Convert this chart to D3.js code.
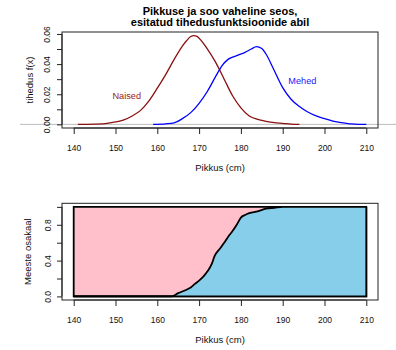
<!DOCTYPE html>
<html>
<head>
<meta charset="utf-8">
<script src="https://cdn.jsdelivr.net/npm/d3@7"></script>
<style>
  html, body { margin: 0; padding: 0; background: #fff; }
  svg { display: block; font-family: "Liberation Sans", Arial, sans-serif; }
</style>
</head>
<body>
<div id="chart"></div>
<script>
// Height (cm) grid and density estimate for women
const naisedX = [141, 145, 148, 150, 152, 154, 156, 158, 160, 162, 164, 166, 167, 168, 168.7, 169.5, 170, 172, 174, 176, 178, 180, 182, 184, 186, 188, 190, 192, 194];
const naisedY = [0, 0.0002, 0.0007, 0.0016, 0.003, 0.0056, 0.0093, 0.0156, 0.024, 0.033, 0.043, 0.052, 0.0555, 0.0583, 0.0589, 0.0584, 0.0572, 0.050, 0.041, 0.030, 0.019, 0.011, 0.0056, 0.0033, 0.002, 0.0011, 0.0007, 0.0002, 0];

// Height (cm) grid and density estimate for men
const mehedX = [159, 162, 164, 166, 168, 170, 172, 174, 175.5, 177, 179, 181, 182.5, 183.7, 185, 186, 188, 190, 192, 194, 196, 198, 200, 202, 204, 206, 208, 210];
const mehedY = [0, 0.0004, 0.001, 0.0038, 0.0078, 0.014, 0.022, 0.032, 0.039, 0.0433, 0.0456, 0.0478, 0.050, 0.0516, 0.0504, 0.0467, 0.0356, 0.0244, 0.0167, 0.0118, 0.0082, 0.0056, 0.0038, 0.0022, 0.0011, 0.0004, 0, 0];

// Share of men by height
const osakaalX = [140, 150, 160, 163.5, 165, 167, 168, 169, 170, 171, 172, 173, 173.7, 175, 176, 177, 178, 179, 180, 181, 182, 184, 186, 188, 190, 200, 210];
const osakaalY = [0, 0, 0, 0, 0.037, 0.075, 0.10, 0.14, 0.176, 0.22, 0.28, 0.36, 0.45, 0.535, 0.60, 0.67, 0.73, 0.80, 0.88, 0.91, 0.93, 0.95, 0.98, 0.99, 1, 1, 1];

const xTicks = [140, 150, 160, 170, 180, 190, 200, 210];
const densTicks = [0, 0.01, 0.02, 0.03, 0.04, 0.05, 0.06];
const densTickLabels = ["0.00", "", "0.02", "", "0.04", "", "0.06"];
const shareTicks = [0, 0.2, 0.4, 0.6, 0.8, 1.0];
const shareTickLabels = ["0.0", "", "0.4", "", "0.8", ""];

const titleLines = ["Pikkuse ja soo vaheline seos,", "esitatud tihedusfunktsioonide abil"];

const W = 396, H = 350;
const svg = d3.select("#chart").append("svg").attr("width", W).attr("height", H);

const axisColor = "#222";
const tickFont = 8.5;
const labFont = 9.5;

function drawPanel(cfg) {
  const g = svg.append("g");
  const x = d3.scaleLinear().domain([137.2, 212.8]).range([cfg.left, cfg.right]);
  const y = d3.scaleLinear().domain(cfg.yDomain).range([cfg.bottom, cfg.top]);

  cfg.draw(g, x, y);

  // box
  g.append("rect")
    .attr("x", cfg.left).attr("y", cfg.top)
    .attr("width", cfg.right - cfg.left).attr("height", cfg.bottom - cfg.top)
    .attr("fill", "none").attr("stroke", axisColor).attr("stroke-width", 1);

  // x axis
  const xa = g.append("g").attr("transform", `translate(0,${cfg.bottom})`)
    .call(d3.axisBottom(x).tickValues(xTicks).tickSize(6).tickPadding(0).tickFormat(d3.format("d")));
  xa.select(".domain").attr("d", `M${x(xTicks[0])},0H${x(xTicks[xTicks.length - 1])}`).attr("stroke", axisColor);
  xa.selectAll(".tick line").attr("stroke", axisColor);
  xa.selectAll(".tick text").attr("dy", null).attr("y", cfg.xTickBase - cfg.bottom)
    .attr("font-size", tickFont).attr("font-family", "Liberation Sans, Arial, sans-serif").attr("fill", "#111");

  // y axis
  const ya = g.append("g").attr("transform", `translate(${cfg.left},0)`)
    .call(d3.axisLeft(y).tickValues(cfg.yTicks).tickSize(5).tickFormat((d, i) => cfg.yLabels[i]));
  ya.select(".domain").attr("d", `M0,${y(cfg.yTicks[0])}V${y(cfg.yTicks[cfg.yTicks.length - 1])}`).attr("stroke", axisColor);
  ya.selectAll(".tick line").attr("stroke", axisColor);
  ya.selectAll(".tick text")
    .attr("x", null).attr("dy", null).attr("y", null)
    .attr("text-anchor", "middle")
    .attr("transform", `translate(${cfg.yTickX - cfg.left},0) rotate(-90)`)
    .attr("font-size", tickFont).attr("font-family", "Liberation Sans, Arial, sans-serif").attr("fill", "#111");

  // axis titles
  g.append("text").attr("x", (cfg.left + cfg.right) / 2).attr("y", cfg.xLabBase)
    .attr("text-anchor", "middle").attr("font-size", labFont).attr("fill", "#111").text("Pikkus (cm)");
  g.append("text")
    .attr("transform", `translate(${cfg.yLabX},${(cfg.top + cfg.bottom) / 2}) rotate(-90)`)
    .attr("text-anchor", "middle").attr("font-size", labFont).attr("fill", "#111").text(cfg.yLab);
}

const smooth = d3.curveMonotoneX;

// Top panel: densities
drawPanel({
  left: 62, right: 378, top: 32, bottom: 128,
  yDomain: [-0.0024, 0.0613],
  yTicks: densTicks, yLabels: densTickLabels,
  xTickBase: 151, xLabBase: 171, yTickX: 50, yLabX: 33,
  yLab: "tihedus f(x)",
  draw(g, x, y) {
    g.append("line").attr("x1", 20).attr("x2", W).attr("y1", y(0)).attr("y2", y(0))
      .attr("stroke", "#bdbdbd").attr("stroke-width", 1);
    const line = d3.line().x(d => x(d[0])).y(d => y(d[1])).curve(smooth);
    g.append("path").datum(d3.zip(naisedX, naisedY)).attr("d", line)
      .attr("fill", "none").attr("stroke", "#8b1010").attr("stroke-width", 1.3);
    g.append("path").datum(d3.zip(mehedX, mehedY)).attr("d", line)
      .attr("fill", "none").attr("stroke", "#0000ff").attr("stroke-width", 1.3);
    g.append("text").attr("x", x(152.7)).attr("y", y(0.0167)).attr("text-anchor", "middle")
      .attr("font-size", 9.2).attr("fill", "#9b1c1c").text("Naised");
    g.append("text").attr("x", x(194.7)).attr("y", y(0.0265)).attr("text-anchor", "middle")
      .attr("font-size", 9.2).attr("fill", "#2020ff").text("Mehed");
  }
});

// Bottom panel: share of men
drawPanel({
  left: 62, right: 378, top: 203.3, bottom: 300,
  yDomain: [-0.04, 1.04],
  yTicks: shareTicks, yLabels: shareTickLabels,
  xTickBase: 323, xLabBase: 343, yTickX: 51, yLabX: 31,
  yLab: "Meeste osakaal",
  draw(g, x, y) {
    const x0 = osakaalX[0], x1 = osakaalX[osakaalX.length - 1];
    g.append("path")
      .attr("d", `M${x(x0)},${y(0)}H${x(x1)}V${y(1)}H${x(x0)}Z`)
      .attr("fill", "#ffc0cb").attr("stroke", "#000").attr("stroke-width", 1.8);
    const area = d3.area().x(d => x(d[0])).y0(y(0)).y1(d => y(d[1])).curve(smooth);
    g.append("path").datum(d3.zip(osakaalX, osakaalY)).attr("d", area)
      .attr("fill", "#87ceeb").attr("stroke", "none");
    const line = d3.line().x(d => x(d[0])).y(d => y(d[1])).curve(smooth);
    g.append("path").datum(d3.zip(osakaalX, osakaalY)).attr("d", line)
      .attr("fill", "none").attr("stroke", "#000").attr("stroke-width", 1.8);
    g.append("path")
      .attr("d", `M${x(x0)},${y(0)}H${x(x1)}V${y(1)}`)
      .attr("fill", "none").attr("stroke", "#000").attr("stroke-width", 1.8);
  }
});

// Title
const title = svg.append("text").attr("text-anchor", "middle").attr("font-weight", "bold")
  .attr("font-size", 11).attr("fill", "#000");
titleLines.forEach((t, i) => {
  title.append("tspan").attr("x", 220).attr("y", 15 + i * 11).text(t);
});
</script>
</body>
</html>
